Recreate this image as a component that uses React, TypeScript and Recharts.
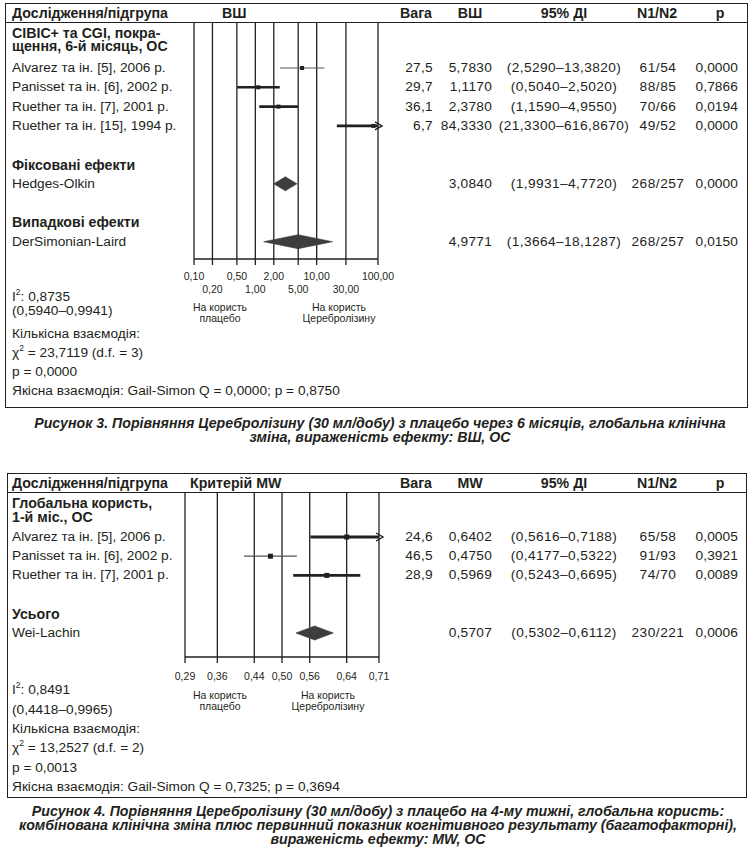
import React from "react";
import {
  CartesianGrid,
  ReferenceArea,
  ReferenceLine,
  Scatter,
  ScatterChart,
  XAxis,
  YAxis,
} from "recharts";

const FONT = '"Liberation Sans", Arial, Helvetica, sans-serif';
const INK = "#231f20";
const DIAMOND = "#3d3d3d";

// ---- Рисунок 3: ВШ (log scale)
const OR_STUDIES = [
  "Alvarez та ін. [5], 2006 р.",
  "Panisset та ін. [6], 2002 р.",
  "Ruether та ін. [7], 2001 р.",
  "Ruether та ін. [15], 1994 р.",
];
const OR_WEIGHT = [27.5, 29.7, 36.1, 6.7];
const OR_EST = [5.783, 1.117, 2.378, 84.333];
const OR_LO = [2.529, 0.504, 1.159, 21.33];
const OR_HI = [13.382, 2.502, 4.955, 616.867];
const OR_N = ["61/54", "88/85", "70/66", "49/52"];
const OR_P = [0.0, 0.7866, 0.0194, 0.0];
const OR_POOLED_TITLES = ["Фіксовані ефекти", "Випадкові ефекти"];
const OR_POOLED_NAMES = ["Hedges-Olkin", "DerSimonian-Laird"];
const OR_POOLED_EST = [3.084, 4.9771];
const OR_POOLED_LO = [1.9931, 1.3664];
const OR_POOLED_HI = [4.772, 18.1287];
const OR_POOLED_N = ["268/257", "268/257"];
const OR_POOLED_P = [0.0, 0.015];
const OR_TICKS = [0.1, 0.2, 0.5, 1, 2, 5, 10, 30, 100];
const OR_STATS = [
  "(0,5940–0,9941)",
  "Кількісна взаємодія:",
  "= 23,7119 (d.f. = 3)",
  "p = 0,0000",
  "Якісна взаємодія: Gail-Simon Q = 0,0000; p = 0,8750",
];
const OR_I2 = "0,8735";

// ---- Рисунок 4: критерій MW (linear scale)
const MW_STUDIES = [
  "Alvarez та ін. [5], 2006 р.",
  "Panisset та ін. [6], 2002 р.",
  "Ruether та ін. [7], 2001 р.",
];
const MW_WEIGHT = [24.6, 46.5, 28.9];
const MW_EST = [0.6402, 0.475, 0.5969];
const MW_LO = [0.5616, 0.4177, 0.5243];
const MW_HI = [0.7188, 0.5322, 0.6695];
const MW_N = ["65/58", "91/93", "74/70"];
const MW_P = [0.0005, 0.3921, 0.0089];
const MW_POOLED_TITLES = ["Усього"];
const MW_POOLED_NAMES = ["Wei-Lachin"];
const MW_POOLED_EST = [0.5707];
const MW_POOLED_LO = [0.5302];
const MW_POOLED_HI = [0.6112];
const MW_POOLED_N = ["230/221"];
const MW_POOLED_P = [0.0006];
const MW_TICKS = [0.29, 0.36, 0.44, 0.5, 0.56, 0.64, 0.71];
const MW_STATS = [
  "(0,4418–0,9965)",
  "Кількісна взаємодія:",
  "= 13,2527 (d.f. = 2)",
  "p = 0,0013",
  "Якісна взаємодія: Gail-Simon Q = 0,7325; p = 0,3694",
];
const MW_I2 = "0,8491";

const fmt = (v: number, d: number) => v.toFixed(d).replace(".", ",");

type Align = "left" | "right" | "center";

const BODY = 13.7;
const BOLD = 14.2;

function T({
  x,
  y,
  children,
  size = BODY,
  bold = false,
  align = "left",
  italic = false,
  spacing = 0,
  sx = 1,
  lh = 16,
}: {
  x: number;
  y: number;
  children: React.ReactNode;
  size?: number;
  bold?: boolean;
  align?: Align;
  italic?: boolean;
  spacing?: number;
  sx?: number;
  lh?: number;
}) {
  const style: React.CSSProperties = {
    position: "absolute",
    top: y - lh / 2,
    height: lh,
    lineHeight: `${lh}px`,
    fontSize: size,
    fontWeight: bold ? 700 : 400,
    fontStyle: italic ? "italic" : "normal",
    fontFamily: FONT,
    color: INK,
    whiteSpace: "nowrap",
    letterSpacing: spacing,
  };
  if (align === "left") style.left = x;
  if (align === "right") style.right = 753 - x;
  if (align === "center") {
    style.left = x;
    style.transform = `translateX(-50%) scaleX(${sx})`;
  }
  return <div style={style}>{children}</div>;
}

const sup = (
  <sup style={{ fontSize: 8.5, verticalAlign: "6px", lineHeight: 0 }}>2</sup>
);

interface ForestProps {
  log: boolean;
  domain: [number, number];
  ticks: number[];
  tickDigits: number;
  tickDy: number[];
  plotLeft: number;
  plotRight: number;
  plotTop: number;
  plotBottom: number;
  row0: number;
  rowH: number;
  est: number[];
  lo: number[];
  hi: number[];
  lineWidths: number[];
  lineColors: string[];
  marker: number;
  pooledEst: number[];
  pooledLo: number[];
  pooledHi: number[];
  pooledSlots: number[];
}

function ForestPlot(p: ForestProps) {
  const padX = 24;
  const axisH = 40;
  const width = p.plotRight - p.plotLeft + padX * 2;
  const height = p.plotBottom - p.plotTop + axisH;
  const yTop = (p.plotTop - p.row0) / p.rowH;
  const yBottom = (p.plotBottom - p.row0) / p.rowH;
  const points = p.est.map((v, i) => ({ x: v, y: i }));
  const half = 7 / p.rowH;

  const renderTick = (props: any) => {
    const { x, y, payload, index } = props;
    const dy = p.tickDy[index % p.tickDy.length];
    return (
      <text
        x={x}
        y={y + dy}
        textAnchor="middle"
        fontSize={10.5}
        fontFamily={FONT}
        fill={INK}
      >
        {fmt(payload.value, p.tickDigits)}
      </text>
    );
  };

  const segment = (color: string, w: number, arrow: boolean) => (props: any) => {
    const { x1, y1, x2, y2 } = props;
    return (
      <g>
        <line x1={x1} y1={y1} x2={x2} y2={y2} stroke={color} strokeWidth={w} />
        {arrow ? (
          <path
            d={`M${x2 - 3},${y2 - 4} L${x2 + 4},${y2} L${x2 - 3},${y2 + 4}`}
            fill="none"
            stroke={color}
            strokeWidth={1.4}
          />
        ) : null}
      </g>
    );
  };

  const leftHalf = (props: any) => {
    const { x, y, width: w, height: h } = props;
    return (
      <polygon
        points={`${x},${y + h / 2} ${x + w},${y} ${x + w},${y + h}`}
        fill={DIAMOND}
        stroke={DIAMOND}
        strokeWidth={0.6}
      />
    );
  };
  const rightHalf = (props: any) => {
    const { x, y, width: w, height: h } = props;
    return (
      <polygon
        points={`${x},${y} ${x + w},${y + h / 2} ${x},${y + h}`}
        fill={DIAMOND}
        stroke={DIAMOND}
        strokeWidth={0.6}
      />
    );
  };

  return (
    <div style={{ position: "absolute", left: p.plotLeft - padX, top: p.plotTop }}>
      <ScatterChart
        width={width}
        height={height}
        margin={{ top: 0, right: padX, bottom: 0, left: padX }}
      >
        <CartesianGrid horizontal={false} stroke={INK} strokeWidth={1.3} />
        <XAxis
          dataKey="x"
          type="number"
          scale={p.log ? "log" : "linear"}
          domain={p.domain}
          ticks={p.ticks}
          interval={0}
          allowDataOverflow
          height={axisH}
          axisLine={{ stroke: INK, strokeWidth: 1.3 }}
          tickLine={{ stroke: INK, strokeWidth: 1.3 }}
          tickSize={6}
          tickMargin={0}
          tick={renderTick}
        />
        <YAxis
          dataKey="y"
          type="number"
          domain={[yTop, yBottom]}
          reversed
          hide
          allowDataOverflow
        />
        {p.lo.map((lo, i) => {
          const arrow = p.hi[i] > p.domain[1];
          const hi = arrow ? p.domain[1] : p.hi[i];
          return (
            <ReferenceLine
              key={`ci${i}`}
              segment={[
                { x: lo, y: i },
                { x: hi, y: i },
              ]}
              shape={segment(p.lineColors[i], p.lineWidths[i], arrow)}
            />
          );
        })}
        {p.pooledEst.map((e, i) => (
          <ReferenceArea
            key={`dl${i}`}
            x1={p.pooledLo[i]}
            x2={e}
            y1={p.pooledSlots[i] - half}
            y2={p.pooledSlots[i] + half}
            shape={leftHalf}
          />
        ))}
        {p.pooledEst.map((e, i) => (
          <ReferenceArea
            key={`dr${i}`}
            x1={e}
            x2={p.pooledHi[i]}
            y1={p.pooledSlots[i] - half}
            y2={p.pooledSlots[i] + half}
            shape={rightHalf}
          />
        ))}
        <Scatter
          data={points}
          isAnimationActive={false}
          shape={(props: any) => (
            <rect
              x={props.cx - p.marker / 2}
              y={props.cy - p.marker / 2}
              width={p.marker}
              height={p.marker}
              fill={INK}
            />
          )}
        />
      </ScatterChart>
    </div>
  );
}

function Box({ left, top, right, bottom }: { left: number; top: number; right: number; bottom: number }) {
  return (
    <div
      style={{
        position: "absolute",
        left,
        top,
        width: right - left,
        height: bottom - top,
        border: `1.4px solid ${INK}`,
        boxSizing: "border-box",
      }}
    />
  );
}

function HLine({ left, right, y }: { left: number; right: number; y: number }) {
  return (
    <div
      style={{
        position: "absolute",
        left,
        top: y,
        width: right - left,
        height: 0,
        borderTop: `1.4px solid ${INK}`,
      }}
    />
  );
}

function Header({ y, effect, effectX, effectCol }: { y: number; effect: string; effectX: number; effectCol: string }) {
  return (
    <>
      <T x={12} y={y} bold size={BOLD}>Дослідження/підгрупа</T>
      <T x={effectX} y={y} bold size={BOLD}>{effect}</T>
      <T x={416} y={y} bold size={BOLD} align="center">Вага</T>
      <T x={470} y={y} bold size={BOLD} align="center">{effectCol}</T>
      <T x={564} y={y} bold size={BOLD} align="center">95% ДІ</T>
      <T x={657} y={y} bold size={BOLD} align="center">N1/N2</T>
      <T x={720} y={y} bold size={BOLD} align="center">p</T>
    </>
  );
}

function Row({
  y,
  name,
  weight,
  est,
  lo,
  hi,
  n,
  pv,
}: {
  y: number;
  name: string;
  weight?: number;
  est: number;
  lo: number;
  hi: number;
  n: string;
  pv: number;
}) {
  return (
    <>
      <T x={12} y={y}>{name}</T>
      {weight !== undefined ? <T x={433} y={y} align="right" spacing={0.3}>{fmt(weight, 1)}</T> : null}
      <T x={492} y={y} align="right" spacing={0.25}>{fmt(est, 4)}</T>
      <T x={564} y={y} align="center" spacing={0.4}>({fmt(lo, 4)}–{fmt(hi, 4)})</T>
      <T x={658} y={y} align="center" spacing={0.5}>{n}</T>
      <T x={738} y={y} align="right" spacing={0.1}>{fmt(pv, 4)}</T>
    </>
  );
}

export default function App() {
  // figure 3 layout
  const f3Row0 = 68;
  const f3RowH = 19.3;
  const f3Slot = (k: number) => f3Row0 + f3RowH * k;
  const f3PooledSlots = [6, 9];

  // figure 4 layout
  const f4Row0 = 537;
  const f4RowH = 19.2;
  const f4Slot = (k: number) => f4Row0 + f4RowH * k;
  const f4PooledSlots = [5];

  const caption = { bold: true, italic: true, size: 15, sx: 0.945, lh: 14 };

  return (
    <div
      style={{
        position: "absolute",
        left: 0,
        top: 0,
        width: 753,
        height: 853,
        background: "#fff",
        fontFamily: FONT,
        overflow: "hidden",
      }}
    >
      {/* ---------- Рисунок 3 ---------- */}
      <Box left={5} top={3} right={748} bottom={408} />
      <HLine left={5} right={748} y={22} />
      <Header y={13} effect="ВШ" effectX={222} effectCol="ВШ" />
      <T x={12} y={33} bold size={BOLD} lh={13}>CIBIC+ та CGI, покра-</T>
      <T x={12} y={46} bold size={BOLD} lh={13}>щення, 6-й місяць, ОС</T>
      {OR_STUDIES.map((s, i) => (
        <Row
          key={s}
          y={f3Slot(i)}
          name={s}
          weight={OR_WEIGHT[i]}
          est={OR_EST[i]}
          lo={OR_LO[i]}
          hi={OR_HI[i]}
          n={OR_N[i]}
          pv={OR_P[i]}
        />
      ))}
      {OR_POOLED_NAMES.map((s, i) => (
        <React.Fragment key={s}>
          <T x={12} y={f3Slot(f3PooledSlots[i] - 1)} bold size={BOLD}>{OR_POOLED_TITLES[i]}</T>
          <Row
            y={f3Slot(f3PooledSlots[i])}
            name={s}
            est={OR_POOLED_EST[i]}
            lo={OR_POOLED_LO[i]}
            hi={OR_POOLED_HI[i]}
            n={OR_POOLED_N[i]}
            pv={OR_POOLED_P[i]}
          />
        </React.Fragment>
      ))}
      <ForestPlot
        log
        domain={[0.1, 100]}
        ticks={OR_TICKS}
        tickDigits={2}
        tickDy={[15, 28]}
        plotLeft={194}
        plotRight={378}
        plotTop={22}
        plotBottom={259}
        row0={f3Row0}
        rowH={f3RowH}
        est={OR_EST}
        lo={OR_LO}
        hi={OR_HI}
        lineWidths={[1.2, 2.6, 2.6, 2.6]}
        lineColors={["#555", INK, INK, INK]}
        marker={4}
        pooledEst={OR_POOLED_EST}
        pooledLo={OR_POOLED_LO}
        pooledHi={OR_POOLED_HI}
        pooledSlots={f3PooledSlots}
      />
      <T x={220} y={307} size={10.5} align="center" lh={11}>На користь</T>
      <T x={220} y={318} size={10.5} align="center" lh={11}>плацебо</T>
      <T x={339} y={307} size={10.5} align="center" lh={11}>На користь</T>
      <T x={339} y={318} size={10.5} align="center" lh={11}>Церебролізину</T>
      <T x={12} y={297} lh={12}>I{sup}: {OR_I2}</T>
      <T x={12} y={311} lh={12}>{OR_STATS[0]}</T>
      <T x={12} y={334}>{OR_STATS[1]}</T>
      <T x={12} y={353}>χ{sup} {OR_STATS[2]}</T>
      <T x={12} y={372}>{OR_STATS[3]}</T>
      <T x={12} y={391}>{OR_STATS[4]}</T>
      <T x={380} y={423} align="center" {...caption}>
        Рисунок 3. Порівняння Церебролізину (30 мл/добу) з плацебо через 6 місяців, глобальна клінічна
      </T>
      <T x={380} y={437} align="center" {...caption}>
        зміна, вираженість ефекту: ВШ, ОС
      </T>

      {/* ---------- Рисунок 4 ---------- */}
      <Box left={7} top={473} right={747} bottom={798} />
      <HLine left={7} right={747} y={492} />
      <Header y={483} effect="Критерій MW" effectX={190} effectCol="MW" />
      <T x={12} y={503} bold size={BOLD} lh={13}>Глобальна користь,</T>
      <T x={12} y={517} bold size={BOLD} lh={13}>1-й міс., ОС</T>
      {MW_STUDIES.map((s, i) => (
        <Row
          key={s}
          y={f4Slot(i)}
          name={s}
          weight={MW_WEIGHT[i]}
          est={MW_EST[i]}
          lo={MW_LO[i]}
          hi={MW_HI[i]}
          n={MW_N[i]}
          pv={MW_P[i]}
        />
      ))}
      {MW_POOLED_NAMES.map((s, i) => (
        <React.Fragment key={s}>
          <T x={12} y={f4Slot(f4PooledSlots[i] - 1)} bold size={BOLD}>{MW_POOLED_TITLES[i]}</T>
          <Row
            y={f4Slot(f4PooledSlots[i])}
            name={s}
            est={MW_POOLED_EST[i]}
            lo={MW_POOLED_LO[i]}
            hi={MW_POOLED_HI[i]}
            n={MW_POOLED_N[i]}
            pv={MW_POOLED_P[i]}
          />
        </React.Fragment>
      ))}
      <ForestPlot
        log={false}
        domain={[0.29, 0.71]}
        ticks={MW_TICKS}
        tickDigits={2}
        tickDy={[17]}
        plotLeft={185}
        plotRight={379}
        plotTop={492}
        plotBottom={657}
        row0={f4Row0}
        rowH={f4RowH}
        est={MW_EST}
        lo={MW_LO}
        hi={MW_HI}
        lineWidths={[3, 1.2, 2.6]}
        lineColors={[INK, "#555", INK]}
        marker={5}
        pooledEst={MW_POOLED_EST}
        pooledLo={MW_POOLED_LO}
        pooledHi={MW_POOLED_HI}
        pooledSlots={f4PooledSlots}
      />
      <T x={220} y={695} size={10.5} align="center" lh={11}>На користь</T>
      <T x={220} y={706} size={10.5} align="center" lh={11}>плацебо</T>
      <T x={328} y={695} size={10.5} align="center" lh={11}>На користь</T>
      <T x={328} y={706} size={10.5} align="center" lh={11}>Церебролізину</T>
      <T x={12} y={690}>I{sup}: {MW_I2}</T>
      <T x={12} y={710}>{MW_STATS[0]}</T>
      <T x={12} y={729}>{MW_STATS[1]}</T>
      <T x={12} y={748}>χ{sup} {MW_STATS[2]}</T>
      <T x={12} y={768}>{MW_STATS[3]}</T>
      <T x={12} y={787}>{MW_STATS[4]}</T>
      <T x={378} y={811} align="center" {...caption}>
        Рисунок 4. Порівняння Церебролізину (30 мл/добу) з плацебо на 4-му тижні, глобальна користь:
      </T>
      <T x={378} y={825} align="center" {...caption}>
        комбінована клінічна зміна плюс первинний показник когнітивного результату (багатофакторні),
      </T>
      <T x={378} y={839} align="center" {...caption}>
        вираженість ефекту: MW, ОС
      </T>
    </div>
  );
}
